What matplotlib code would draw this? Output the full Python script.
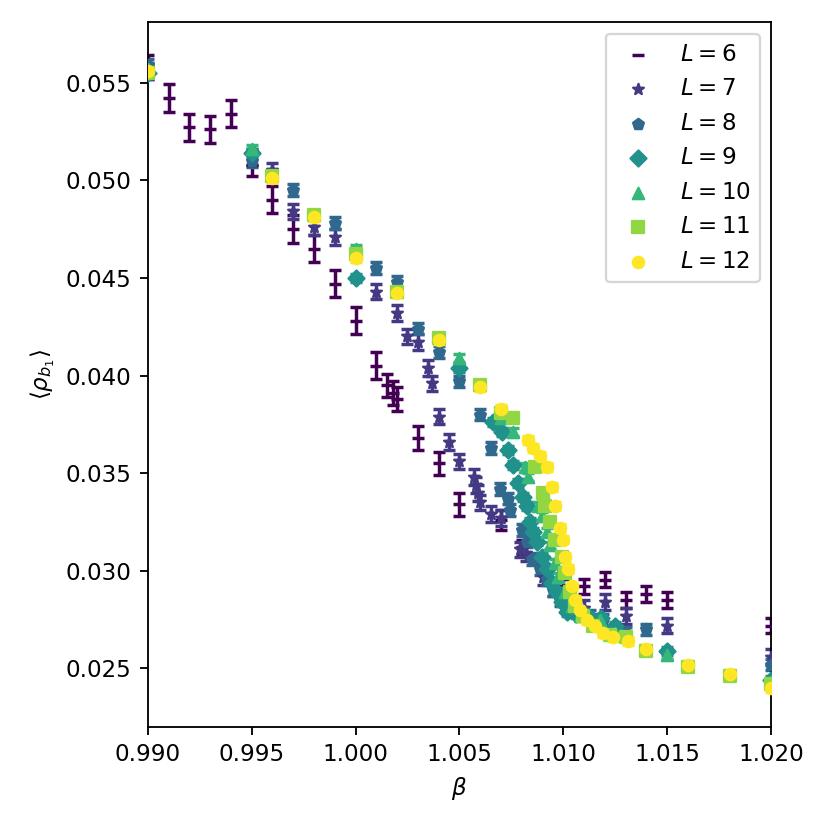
import numpy as np
import matplotlib.pyplot as plt

# values, one pair of lists per lattice size
beta_L6 = [0.990, 0.991, 0.992, 0.993, 0.994, 0.995, 0.996, 0.997, 0.998, 0.999,
           1.000, 1.001, 1.0015, 1.0018, 1.002, 1.003, 1.004, 1.005, 1.007, 1.008,
           1.009, 1.010, 1.011, 1.012, 1.013, 1.014, 1.015, 1.020]
rho_L6 = [0.0558, 0.0542, 0.0527, 0.0526, 0.0534, 0.0508, 0.0490, 0.0475, 0.0465, 0.0447,
          0.0428, 0.0405, 0.0395, 0.0391, 0.0388, 0.0368, 0.0355, 0.0334, 0.0326, 0.0312,
          0.0303, 0.0296, 0.0292, 0.02955, 0.0285, 0.0288, 0.0285, 0.0272]
err_L6 = [0.0006, 0.0007, 0.0007, 0.0007, 0.0007, 0.0006, 0.0007, 0.0007, 0.0007, 0.0007,
          0.0007, 0.0007, 0.0006, 0.0006, 0.0006, 0.0006, 0.0006, 0.0006, 0.0005, 0.0004,
          0.0004, 0.0004, 0.0004, 0.0004, 0.0004, 0.0004, 0.0004, 0.0004]

beta_L7 = [0.990, 0.995, 0.996, 0.997, 0.998, 0.999, 1.001, 1.002, 1.0025, 1.003,
           1.0035, 1.0037, 1.004, 1.0045, 1.005, 1.0057, 1.0058, 1.0059, 1.006, 1.0065,
           1.0070, 1.0079, 1.0082, 1.0090, 1.0095, 1.011, 1.012, 1.013, 1.015, 1.020]
rho_L7 = [0.0556, 0.0512, 0.0505, 0.0484, 0.0476, 0.0471, 0.0443, 0.0432, 0.0420, 0.0417,
          0.0404, 0.0396, 0.0379, 0.0366, 0.0356, 0.0348, 0.0344, 0.0340, 0.0335, 0.0329,
          0.0327, 0.0311, 0.0309, 0.0297, 0.0291, 0.0281, 0.0284, 0.0277, 0.0272, 0.0256]

beta_L8 = [0.990, 0.995, 0.997, 0.999, 1.001, 1.002, 1.003, 1.004, 1.005, 1.006,
           1.0065, 1.00695, 1.00734, 1.00743, 1.00801, 1.00825, 1.00849, 1.00888, 1.00921, 1.00950,
           1.00984, 1.0105, 1.0113, 1.0119, 1.013, 1.014, 1.020]
rho_L8 = [0.0559, 0.0510, 0.0495, 0.0478, 0.0455, 0.0448, 0.0424, 0.0412, 0.0397, 0.0380,
          0.0363, 0.0342, 0.0337, 0.0331, 0.0321, 0.0315, 0.0306, 0.0301, 0.0296, 0.0290,
          0.0285, 0.0280, 0.0277, 0.0275, 0.0268, 0.0270, 0.0252]

beta_L9 = [0.990, 0.995, 1.000, 1.005, 1.0066, 1.00705, 1.00734, 1.00758, 1.00782, 1.00806,
           1.00825, 1.00839, 1.00854, 1.00873, 1.00897, 1.00921, 1.00945, 1.00970, 1.00994, 1.01018,
           1.0106, 1.0112, 1.0118, 1.0125, 1.015, 1.020]
rho_L9 = [0.0555, 0.0514, 0.0450, 0.0404, 0.0376, 0.0371, 0.0362, 0.0354, 0.0345, 0.0338,
          0.0333, 0.0325, 0.0320, 0.0315, 0.0307, 0.0301, 0.0294, 0.0289, 0.0284, 0.0279,
          0.0278, 0.0277, 0.0276, 0.0272, 0.0259, 0.0244]

beta_L10 = [0.990, 0.995, 1.000, 1.005, 1.0070, 1.00758, 1.00815, 1.00830, 1.00878, 1.00897,
            1.00921, 1.00936, 1.00960, 1.00974, 1.01008, 1.01042, 1.01080, 1.01177, 1.0125, 1.015,
            1.020]
rho_L10 = [0.0557, 0.0516, 0.0465, 0.0409, 0.0378, 0.0371, 0.0353, 0.0348, 0.0333, 0.0328,
           0.0320, 0.0313, 0.0304, 0.0297, 0.0289, 0.0282, 0.0277, 0.0275, 0.0268, 0.0257,
           0.0243]

beta_L11 = [0.990, 0.996, 0.998, 1.000, 1.002, 1.004, 1.006, 1.007, 1.00758, 1.00864,
            1.00902, 1.00912, 1.00936, 1.00960, 1.00994, 1.01008, 1.01032, 1.01056, 1.01095, 1.01143,
            1.01225, 1.013, 1.014, 1.016, 1.018, 1.020]
rho_L11 = [0.0555, 0.0502, 0.0482, 0.0462, 0.0443, 0.0419, 0.0395, 0.0381, 0.0378, 0.0353,
           0.0340, 0.0333, 0.0325, 0.0316, 0.0307, 0.0299, 0.0289, 0.0282, 0.0277, 0.0272,
           0.0267, 0.0266, 0.0259, 0.0251, 0.0246, 0.0242]

beta_L12 = [0.990, 0.996, 0.998, 1.000, 1.002, 1.004, 1.006, 1.007, 1.00830, 1.00854,
            1.00888, 1.00921, 1.00945, 1.00960, 1.00984, 1.00998, 1.01008, 1.01022, 1.01042, 1.01056,
            1.01080, 1.01114, 1.01152, 1.01191, 1.01239, 1.0131, 1.014, 1.016, 1.018, 1.020]
rho_L12 = [0.0556, 0.0501, 0.0481, 0.0460, 0.0442, 0.0418, 0.0394, 0.0383, 0.0367, 0.0363,
           0.0359, 0.0353, 0.0343, 0.0333, 0.0322, 0.0316, 0.0307, 0.0301, 0.0292, 0.0285,
           0.0280, 0.0275, 0.0272, 0.0268, 0.0266, 0.0264, 0.0260, 0.0252, 0.0247, 0.0240]

sizes = [6, 7, 8, 9, 10, 11, 12]
markers = ['_', '*', 'p', 'D', '^', 's', 'o']
errs = [err_L6, 0.0004, 0.0003, 0.0002, 0.0002, 0.0002, 0.0002]
betas = [beta_L6, beta_L7, beta_L8, beta_L9, beta_L10, beta_L11, beta_L12]
rhos = [rho_L6, rho_L7, rho_L8, rho_L9, rho_L10, rho_L11, rho_L12]

colors = plt.cm.viridis(np.linspace(0, 1, len(sizes)))

fig = plt.figure(figsize=(5, 5), dpi=166)
ax = fig.add_axes([0.178, 0.124, 0.751, 0.8495])

for L, m, e, b, r, c in zip(sizes, markers, errs, betas, rhos, colors):
    ax.errorbar(b, r, yerr=e, fmt='none', ecolor=c, elinewidth=1.5,
                capsize=2.5, capthick=1.5)
    ax.scatter(b, r, marker=m, s=24, color=c, label='$L = %d$' % L, zorder=3)

ax.set_xlim(0.990, 1.020)
ax.set_ylim(0.0220, 0.0581)
ax.set_xticks(np.arange(0.990, 1.0201, 0.005))
ax.set_yticks(np.arange(0.025, 0.0551, 0.005))
ax.xaxis.set_major_formatter(plt.FormatStrFormatter('%.3f'))
ax.yaxis.set_major_formatter(plt.FormatStrFormatter('%.3f'))
ax.set_xlabel(r'$\beta$')
ax.set_ylabel(r'$\langle \rho_{b_1} \rangle$')
ax.legend(loc='upper right')

fig.savefig('out.png', dpi=166)
